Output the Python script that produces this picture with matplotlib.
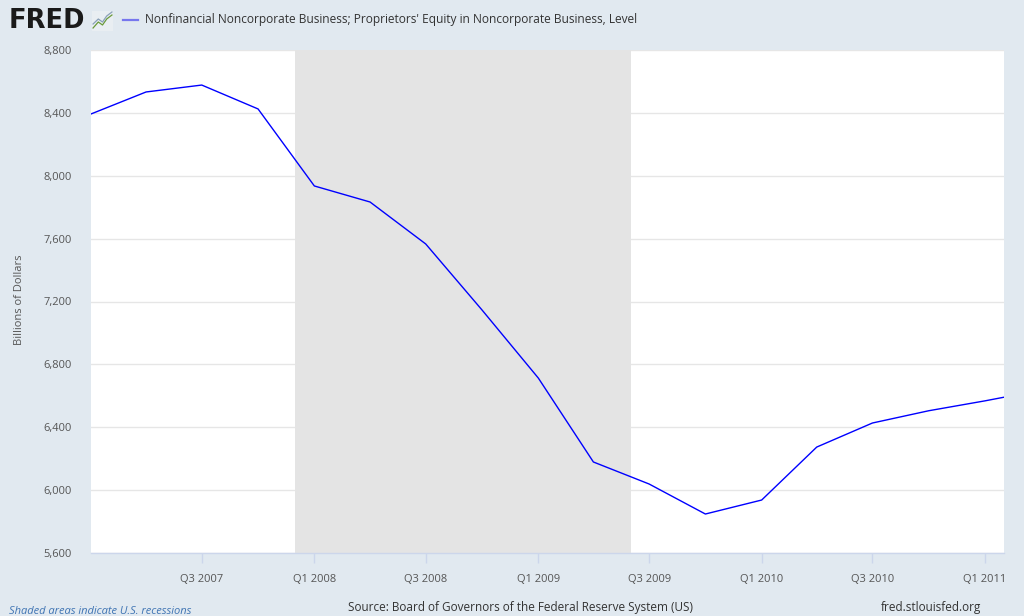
import numpy as np
import pandas as pd
import matplotlib
matplotlib.use("Agg")
import matplotlib.pyplot as plt
import matplotlib.dates as mdates

# quarterly observations, billions of dollars
quarters = ["2007-01-01", "2007-04-01", "2007-07-01", "2007-10-01",
            "2008-01-01", "2008-04-01", "2008-07-01", "2008-10-01",
            "2009-01-01", "2009-04-01", "2009-07-01", "2009-10-01",
            "2010-01-01", "2010-04-01", "2010-07-01", "2010-10-01",
            "2011-01-01", "2011-04-01"]
equity = [8393, 8533, 8577, 8425,
          7935, 7833, 7566, 7146,
          6713, 6179, 6039, 5848,
          5937, 6274, 6427, 6505,
          6568, 6635]

recession = ("2007-12-01", "2009-06-01")
tick_dates = ["2007-07-01", "2008-01-01", "2008-07-01", "2009-01-01",
              "2009-07-01", "2010-01-01", "2010-07-01", "2011-01-01"]
tick_labels = ["Q3 2007", "Q1 2008", "Q3 2008", "Q1 2009",
               "Q3 2009", "Q1 2010", "Q3 2010", "Q1 2011"]
y_ticks = [5600, 6000, 6400, 6800, 7200, 7600, 8000, 8400, 8800]

title = "Nonfinancial Noncorporate Business; Proprietors' Equity in Noncorporate Business, Level"

plt.rcParams["font.family"] = ["Open Sans", "DejaVu Sans"]
bg = "#e1e9f0"
W, H = 1024, 616

fig = plt.figure(figsize=(W / 100, H / 100), dpi=100, facecolor=bg)
ax = fig.add_axes([91 / W, 1 - 553 / H, (1004 - 91) / W, (553 - 50) / H])
ax.set_facecolor("white")

dates = pd.to_datetime(quarters)
ax.axvspan(pd.Timestamp(recession[0]), pd.Timestamp(recession[1]),
           color="#e4e4e4", lw=0, zorder=1)
ax.plot(dates, equity, color="#0000ff", lw=1.0, zorder=3)

ax.set_xlim(pd.Timestamp("2007-01-01"), pd.Timestamp("2011-02-01"))
ax.set_ylim(5600, 8800)
ax.set_yticks(y_ticks)
ax.set_yticklabels([f"{v:,}" for v in y_ticks])
ax.set_xticks(pd.to_datetime(tick_dates))
ax.set_xticklabels(tick_labels)

ax.grid(axis="y", color="#e6e6e6", lw=1, zorder=0)
ax.set_axisbelow(True)
for s in ["top", "right", "left"]:
    ax.spines[s].set_visible(False)
ax.spines["bottom"].set_color("#ccd6eb")
ax.spines["bottom"].set_linewidth(1)
ax.tick_params(axis="y", length=0, pad=14, labelsize=8, labelcolor="#555555")
ax.tick_params(axis="x", length=7, width=1, color="#ccd6eb", pad=8,
               labelsize=8, labelcolor="#555555")

fig.text(20 / W, 1 - 300 / H, "Billions of Dollars", rotation=90,
         ha="center", va="center", fontsize=8, color="#555555")

# header: FRED logo + legend
fig.text(9 / W, 1 - 21 / H, "FRED", fontsize=18.5, fontweight="bold",
         family="DejaVu Sans", color="#1a1a1a", ha="left", va="center")
logo = fig.add_axes([92 / W, 1 - 31 / H, 21 / W, 20 / H])
logo.set_facecolor("#e9eef2")
logo.plot([0.05, 0.3, 0.5, 0.7, 0.95], [0.15, 0.45, 0.3, 0.6, 0.8], color="#6a9a3a", lw=0.9)
logo.plot([0.05, 0.3, 0.5, 0.7, 0.95], [0.35, 0.6, 0.45, 0.75, 0.95], color="#8aa0b8", lw=0.9)
logo.set_xlim(0, 1)
logo.set_ylim(0, 1)
logo.set_xticks([])
logo.set_yticks([])
for s in logo.spines.values():
    s.set_visible(False)

fig.lines.append(plt.Line2D([123 / W, 138 / W], [1 - 20 / H, 1 - 20 / H],
                            transform=fig.transFigure, color="#7777ee", lw=1.6))
fig.text(145 / W, 1 - 20 / H, title, fontsize=8.6, color="#333333",
         ha="left", va="center")

# footer
fig.text(9 / W, 1 - 612 / H, "Shaded areas indicate U.S. recessions",
         fontsize=8, style="italic", color="#3f74b3", ha="left", va="center")
fig.text(520 / W, 1 - 608 / H,
         "Source: Board of Governors of the Federal Reserve System (US)",
         fontsize=8.5, color="#333333", ha="center", va="center")
fig.text(981 / W, 1 - 608 / H, "fred.stlouisfed.org", fontsize=8.5,
         color="#333333", ha="right", va="center")

fig.savefig("out.png", dpi=100, facecolor=bg)
